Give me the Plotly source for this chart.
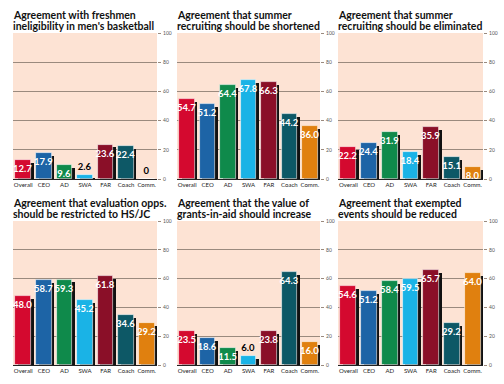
import plotly.graph_objects as go

categories = ["Overall", "CEO", "AD", "SWA", "FAR", "Coach", "Comm."]
titles = [
    ("Agreement with freshmen", "ineligibility in men's basketball"),
    ("Agreement that summer", "recruiting should be shortened"),
    ("Agreement that summer", "recruiting should be eliminated"),
    ("Agreement that evaluation opps.", "should be restricted to HS/JC"),
    ("Agreement that the value of", "grants-in-aid should increase"),
    ("Agreement that exempted", "events should be reduced"),
]
freshmen = [12.7, 17.9, 9.6, 2.6, 23.6, 22.4, 0]
shortened = [54.7, 51.2, 64.4, 67.8, 66.3, 44.2, 36.0]
eliminated = [22.2, 24.4, 31.9, 18.4, 35.9, 15.1, 8.0]
evaluation = [48.0, 58.7, 59.3, 45.2, 61.8, 34.6, 29.2]
grants = [23.5, 18.6, 11.5, 6.0, 23.8, 64.3, 16.0]
exempted = [54.6, 51.2, 58.4, 59.5, 65.7, 29.2, 64.0]
series = [freshmen, shortened, eliminated, evaluation, grants, exempted]
y_ticks = [0, 20, 40, 60, 80, 100]

colors = ["#d4092f", "#1d64a6", "#0f8a4b", "#1ab3e6", "#8a0f28", "#0d5866", "#e0800f"]

W, H = 504, 384
xdoms = [(13, 157), (177, 320), (338, 483)]
ydoms = [(33, 179), (221, 365)]

fig = go.Figure()
BW = 0.76
for i, vals in enumerate(series):
    r, c = divmod(i, 3)
    n = i + 1
    xa = "x" if n == 1 else f"x{n}"
    ya = "y" if n == 1 else f"y{n}"
    shadow = [max(v - 2.0, 0) for v in vals]
    fig.add_trace(go.Bar(
        x=categories, y=shadow, xaxis=xa, yaxis=ya,
        width=BW, offset=-BW / 2 + 0.12,
        marker=dict(color="#111111", line=dict(width=0)),
        hoverinfo="skip", showlegend=False,
    ))
    texts = ["0" if v == 0 else f"{v:.1f}" for v in vals]
    pos = ["outside" if v < 8 else "inside" for v in vals]
    fig.add_trace(go.Bar(
        x=categories, y=vals, xaxis=xa, yaxis=ya,
        width=BW, offset=-BW / 2,
        marker=dict(color=colors, line=dict(color="rgba(255,255,255,0.7)", width=0.8)),
        text=texts, textposition=pos, insidetextanchor="end",
        textangle=0, constraintext="none", cliponaxis=False,
        insidetextfont=dict(family="Lato", size=9.5, color="white", weight="bold"),
        outsidetextfont=dict(family="Lato", size=9.5, color="black", weight="bold"),
        showlegend=False,
    ))
    x0, x1 = xdoms[c]
    y0, y1 = ydoms[r]
    dx = [x0 / W, x1 / W]
    dy = [1 - y1 / H, 1 - y0 / H]
    key = "" if n == 1 else str(n)
    fig.layout["xaxis" + key] = dict(
        domain=dx, anchor=ya, type="category", range=[-0.5, 6.5],
        showline=True, linecolor="#222222", linewidth=1,
        ticks="", showgrid=False, fixedrange=True, tickangle=0,
        tickfont=dict(family="Lato", size=6, color="#222222"),
        ticklabelstandoff=0, automargin=False,
    )
    fig.layout["yaxis" + key] = dict(
        domain=dy, anchor=xa, range=[0, 100], side="right",
        tickvals=y_ticks, ticktext=[str(t) for t in y_ticks],
        showgrid=True, gridcolor="#9a8a7e", gridwidth=1,
        ticks="outside", ticklen=3, tickcolor="#9a8a7e",
        tickfont=dict(family="Lato", size=5, color="#555555"),
        showline=False, zeroline=False, fixedrange=True,
        ticklabelstandoff=1, automargin=False,
    )
    for line_text, shift in zip(titles[i], (18, 7)):
        fig.add_annotation(
            text=line_text, xref="paper", yref="paper",
            x=dx[0], y=dy[1], xanchor="left", yanchor="middle",
            yshift=shift, xshift=-2, align="left", showarrow=False,
            font=dict(family="Lato", size=10.5, color="#111111", weight="bold"),
        )

fig.update_layout(
    width=W, height=H, margin=dict(l=0, r=0, t=0, b=0, autoexpand=False),
    paper_bgcolor="white", plot_bgcolor="#fde3d4",
    barmode="overlay", bargap=0,
)
fig.write_html(
    "out.html",
    config={"displayModeBar": False},
    post_script="document.body.style.margin='0';document.body.style.overflow='hidden';",
)
